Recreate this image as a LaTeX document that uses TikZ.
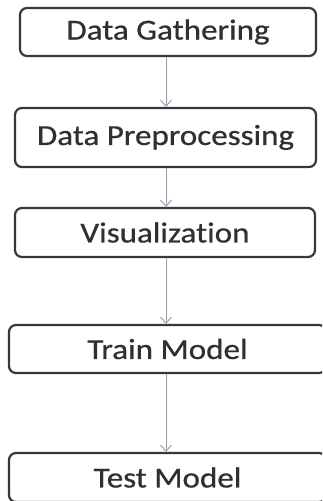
\documentclass[tikz,border=0pt]{standalone}
\usepackage{fontspec}
\setmainfont{Carlito}[Ligatures={NoCommon}, FakeBold=0.6]
\usetikzlibrary{arrows.meta}
\definecolor{boxline}{HTML}{383838}
\definecolor{txtcol}{HTML}{303030}
\definecolor{arrcol}{HTML}{949EC4}
\newcommand{\lbl}[1]{\scalebox{1.14}[1]{#1}}
\begin{document}
\begin{tikzpicture}[x=1pt,y=1pt,
  box/.style={draw=boxline, line width=2.2pt, rounded corners=7pt, fill=white,
    text=txtcol, font=\fontsize{29}{34}\selectfont, inner sep=0pt, anchor=center},
  flow/.style={draw=arrcol, line width=1pt, -{Straight Barb[length=6pt,width=11pt]}}]
\useasboundingbox (0,0) rectangle (322,-501);
\clip (0,0) rectangle (322,-501);
\fill[white] (0,0) rectangle (322,-501);
\node[box, minimum width=296pt, minimum height=48pt] (b1) at (168,-32) {\lbl{Data Gathering}};
\node[box, minimum width=301pt, minimum height=59pt] (b2) at (165.5,-137.5) {\lbl{Data Preprocessing}};
\node[box, minimum width=300pt, minimum height=49pt] (b3) at (165,-232.5) {\lbl{Visualization}};
\node[box, minimum width=317pt, minimum height=48pt] (b4) at (167.5,-349) {\lbl{Train Model}};
\node[box, minimum width=317pt, minimum height=49pt] (b5) at (167.5,-477.5) {\lbl{Test Model}};
\coordinate (ax) at (166,0);
\draw[flow] (b1.south -| ax) -- (b2.north -| ax);
\draw[flow] (b2.south -| ax) -- (b3.north -| ax);
\draw[flow] (b3.south -| ax) -- (b4.north -| ax);
\draw[flow] (b4.south -| ax) -- (b5.north -| ax);
\end{tikzpicture}
\end{document}
